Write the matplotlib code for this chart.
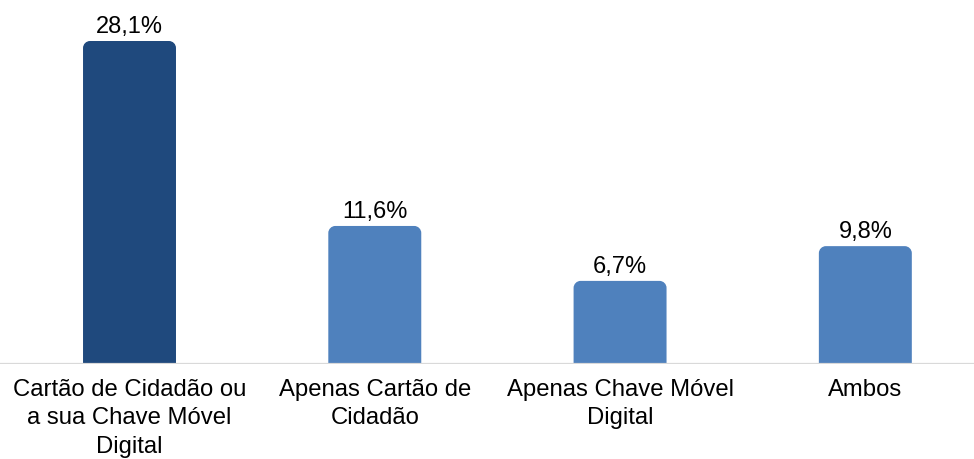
import matplotlib
matplotlib.use('Agg')
import matplotlib.pyplot as plt
from matplotlib.path import Path
from matplotlib.patches import PathPatch

categories = ["Cartão de Cidadão ou\na sua Chave Móvel\nDigital",
              "Apenas Cartão de\nCidadão",
              "Apenas Chave Móvel\nDigital",
              "Ambos"]
values = [28.1, 11.6, 6.7, 9.8]
colors = ["#1F497D", "#4F81BD", "#4F81BD", "#4F81BD"]

plt.rcParams['font.family'] = ['Liberation Sans', 'DejaVu Sans']

W, H = 974, 460
px_per_unit = 11.21
fig = plt.figure(figsize=(W / 100, H / 100), dpi=100)
base_px = 365
ax = fig.add_axes([0, (H - base_px) / H, 1, base_px / H])
ax.set_xlim(-0.528, 3.443)
y0 = -8 / px_per_unit
ax.set_ylim(y0, y0 + base_px / px_per_unit)
ax.axis('off')

bar_w = 0.379
# corner radius in pixels converted to data units
rx = 7 / (W / (3.443 + 0.528))
ry = 7 / px_per_unit


def rounded_bar(x, h, color, b):
    l, r = x - bar_w / 2, x + bar_w / 2
    k = 0.55
    verts = [(l, b), (l, h - ry),
             (l, h - ry + k * ry), (l + rx - k * rx, h), (l + rx, h),
             (r - rx, h),
             (r - rx + k * rx, h), (r, h - ry + k * ry), (r, h - ry),
             (r, b), (l, b)]
    codes = [Path.MOVETO, Path.LINETO,
             Path.CURVE4, Path.CURVE4, Path.CURVE4,
             Path.LINETO,
             Path.CURVE4, Path.CURVE4, Path.CURVE4,
             Path.LINETO, Path.CLOSEPOLY]
    ax.add_patch(PathPatch(Path(verts, codes), facecolor=color, edgecolor='none', zorder=2))


bottom = ax.get_ylim()[0]
for i, (v, c) in enumerate(zip(values, colors)):
    rounded_bar(i, v, c, bottom)
    ax.annotate(f"{v:.1f}%".replace('.', ','), (i, v), xytext=(0, 3),
                textcoords='offset points', ha='center', va='bottom',
                fontsize=17, color='black')
    ax.annotate(categories[i], (i, bottom), xytext=(0, -10), textcoords='offset points',
                ha='center', va='top', fontsize=17.2, linespacing=1.38,
                color='black', annotation_clip=False)

ax.axhline(bottom, color='#d9d9d9', linewidth=1.6, zorder=3)

fig.savefig('out.png', dpi=100)
